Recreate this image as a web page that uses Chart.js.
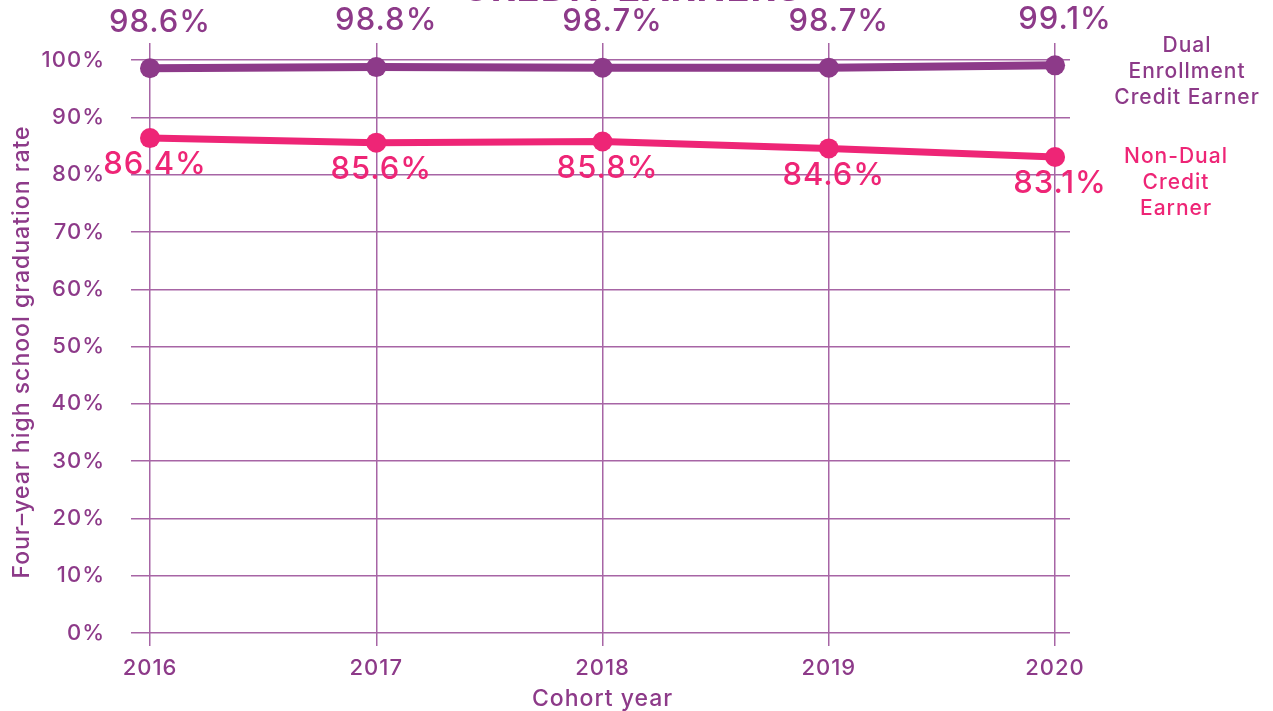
<!DOCTYPE html>
<html>
<head>
<meta charset="utf-8">
<script src="https://cdn.jsdelivr.net/npm/chart.js@4"></script>
<style>
  html, body { margin: 0; padding: 0; background: #fff; }
  #wrap { width: 1273px; height: 711px; }
</style>
</head>
<body>
<div id="wrap"><canvas id="gradChart"></canvas></div>
<script>
const years = [2016, 2017, 2018, 2019, 2020];
const dualEarner = [98.6, 98.8, 98.7, 98.7, 99.1];
const nonDualEarner = [86.4, 85.6, 85.8, 84.6, 83.1];
const yTicks = [0, 10, 20, 30, 40, 50, 60, 70, 80, 90, 100];

const PURPLE = '#8d3a89';
const PINK = '#ee2576';
const GRID = '#a765a5';
const FONT = 'Inter, "Noto Sans", sans-serif';

// value labels, side legend, axis titles and the clipped title
const overlay = {
    id: 'overlay',
    beforeDraw(chart) {
        // the original face is wider than Inter
        chart.ctx.letterSpacing = '1px';
    },
    afterDatasetsDraw(chart) {
        const c = chart.ctx;
        const area = chart.chartArea;
        const x = chart.scales.x;
        c.save();
        c.textAlign = 'center';
        c.textBaseline = 'middle';

        c.font = '500 31px ' + FONT;
        chart.getDatasetMeta(0).data.forEach((pt, i) => {
            c.fillStyle = PURPLE;
            c.fillText(dualEarner[i].toFixed(1) + '%', pt.x + 10, pt.y - 46);
        });
        chart.getDatasetMeta(1).data.forEach((pt, i) => {
            c.fillStyle = PINK;
            c.fillText(nonDualEarner[i].toFixed(1) + '%', pt.x + 5, pt.y + 27);
        });

        c.font = '500 21px ' + FONT;
        c.fillStyle = PURPLE;
        ['Dual', 'Enrollment', 'Credit Earner'].forEach((t, i) => {
            c.fillText(t, area.right + 117, area.top + 3 + i * 26);
        });
        c.fillStyle = PINK;
        ['Non-Dual', 'Credit', 'Earner'].forEach((t, i) => {
            c.fillText(t, area.right + 106, area.top + 114 + i * 26);
        });

        c.fillStyle = PURPLE;
        c.font = '500 23px ' + FONT;
        const mid = (x.getPixelForValue(years[0]) + x.getPixelForValue(years[years.length - 1])) / 2;
        c.fillText('Cohort year', mid, 699);

        c.save();
        c.translate(22, 352);
        c.rotate(-Math.PI / 2);
        c.fillText('Four\u2013year high school graduation rate', 0, 0);
        c.restore();

        c.font = '700 38px ' + FONT;
        c.textBaseline = 'alphabetic';
        c.fillText('CREDIT EARNERS', 632, 1);
        c.restore();
    }
};

new Chart(document.getElementById('gradChart'), {
    type: 'line',
    data: {
        datasets: [{
            label: 'Dual Enrollment Credit Earner',
            data: years.map((y, i) => ({ x: y, y: dualEarner[i] })),
            borderColor: PURPLE,
            backgroundColor: PURPLE,
            borderWidth: 8,
            pointRadius: 10,
            pointBorderWidth: 0,
            tension: 0
        }, {
            label: 'Non-Dual Credit Earner',
            data: years.map((y, i) => ({ x: y, y: nonDualEarner[i] })),
            borderColor: PINK,
            backgroundColor: PINK,
            borderWidth: 7,
            pointRadius: 10,
            pointBorderWidth: 0,
            tension: 0
        }]
    },
    options: {
        responsive: true,
        maintainAspectRatio: false,
        animation: false,
        layout: {
            padding: { left: 40, right: 203, top: 43, bottom: 0 }
        },
        plugins: {
            legend: { display: false },
            tooltip: { enabled: false }
        },
        scales: {
            x: {
                type: 'linear',
                min: 2015.916,
                max: 2020.066,
                afterBuildTicks: s => { s.ticks = years.map(v => ({ value: v })); },
                afterFit: s => { s.height = 78; },
                border: { display: false },
                grid: {
                    color: GRID,
                    lineWidth: 1.5,
                    drawTicks: true,
                    tickLength: 13
                },
                ticks: {
                    color: PURPLE,
                    padding: 9,
                    font: { family: FONT, size: 22, weight: '500' },
                    callback: v => String(v)
                }
            },
            y: {
                min: 0,
                max: 103,
                afterBuildTicks: s => { s.ticks = yTicks.map(v => ({ value: v })); },
                afterFit: s => { s.width = 91; },
                border: { display: false },
                grid: {
                    color: GRID,
                    lineWidth: 1.5,
                    drawTicks: false
                },
                ticks: {
                    color: PURPLE,
                    padding: 26,
                    font: { family: FONT, size: 22, weight: '500' },
                    callback: v => v + '%'
                }
            }
        }
    },
    plugins: [overlay]
});
</script>
</body>
</html>
